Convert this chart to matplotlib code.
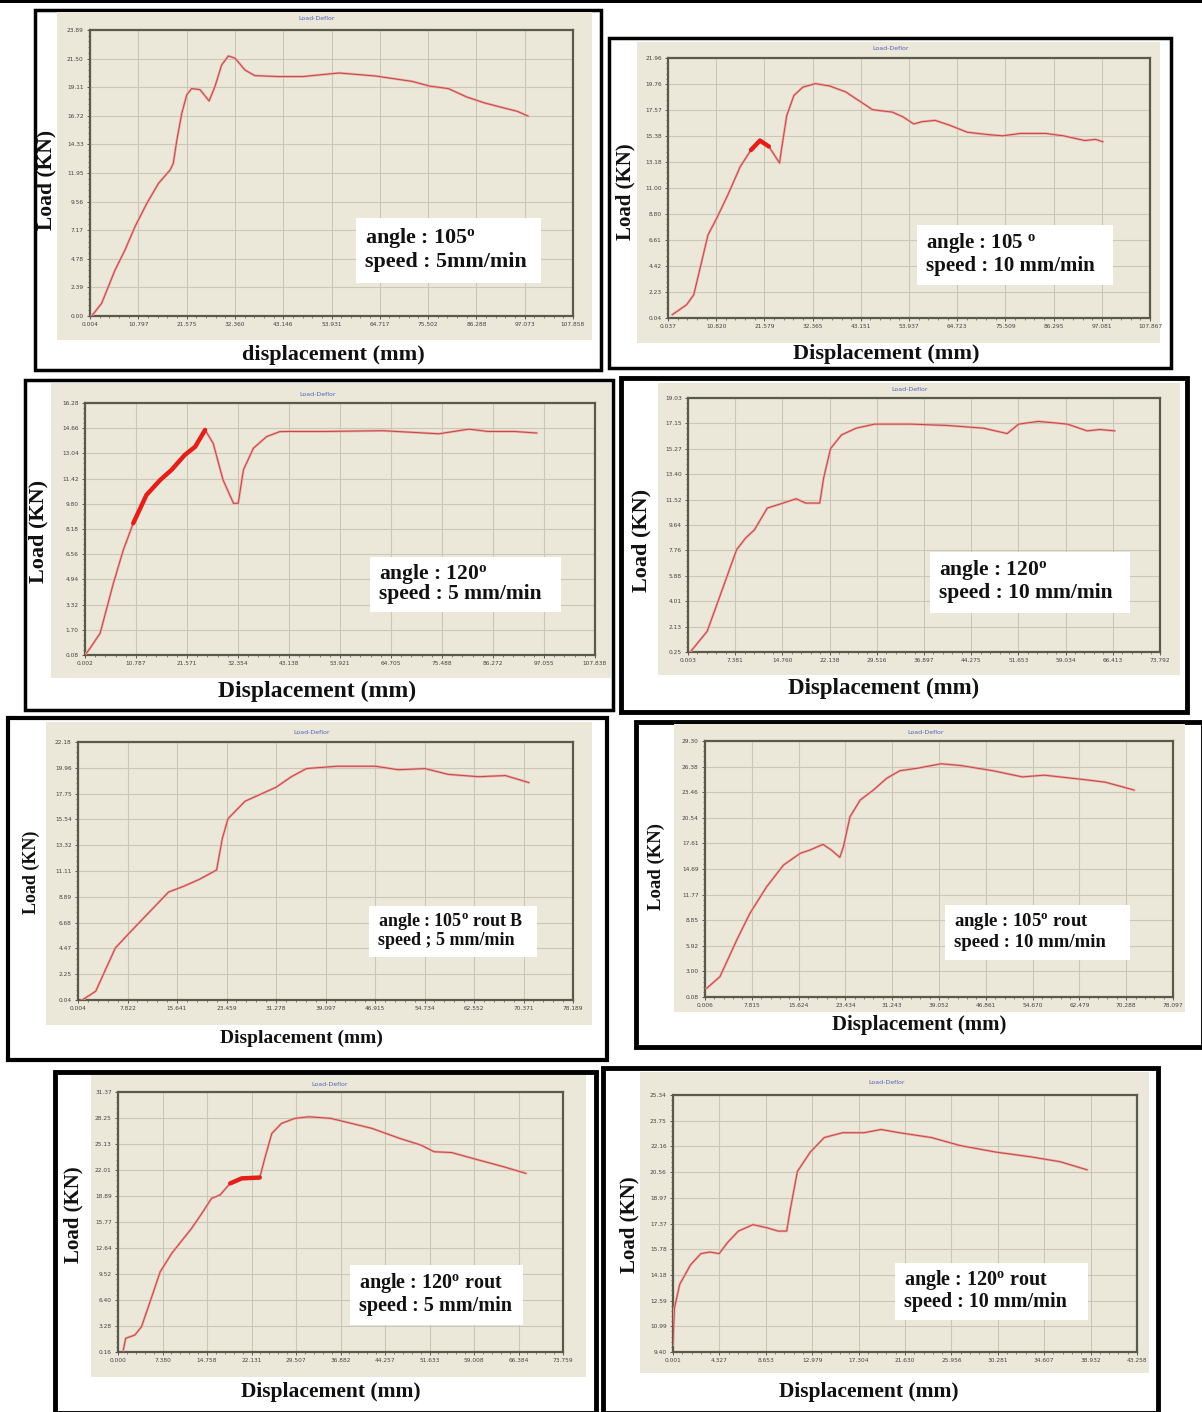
# -*- coding: utf-8 -*-

"""
Load-deflection curves, 8 test runs (angle / speed / rout)
"""
import numpy as np
import matplotlib
matplotlib.use("Agg")
import matplotlib.pyplot as plt
from matplotlib.patches import Rectangle
from matplotlib.ticker import FixedLocator, AutoMinorLocator

plt.rcParams['mathtext.fontset'] = 'custom'
plt.rcParams['mathtext.rm'] = 'Liberation Serif:bold'
plt.rcParams['mathtext.it'] = 'Liberation Serif:bold'

# ---- panel 1 : angle 105, 5 mm/min
p1_x = [0.38, 2.6, 5.6, 7.8, 10.05, 12.7, 15.3, 17.9, 18.6, 19.4, 20.5, 21.6, 22.7, 24.6,
        26.6, 27.9, 29.4, 30.9, 32.4, 34.6, 36.8, 42.0, 47.5, 55.6, 63.7, 71.9, 75.9,
        80.0, 84.1, 88.1, 92.2, 95.4, 97.8]
p1_y = [0.0, 1.06, 3.84, 5.5, 7.46, 9.41, 11.08, 12.2, 12.75, 14.7, 16.93, 18.46, 19.0,
        18.9, 17.96, 19.16, 20.97, 21.72, 21.53, 20.55, 20.08, 20.0, 20.0, 20.3, 20.05,
        19.6, 19.2, 19.0, 18.3, 17.8, 17.4, 17.1, 16.7]
p1_xt = ['0.004', '10.797', '21.575', '32.360', '43.146', '53.931', '64.717', '75.502',
         '86.288', '97.073', '107.858']
p1_yt = ['0.00', '2.39', '4.78', '7.17', '9.56', '11.95', '14.33', '16.72', '19.11',
         '21.50', '23.89']

# ---- panel 2 : angle 105, 10 mm/min
p2_x = [1.0, 4.2, 5.8, 9.0, 11.0, 13.4, 16.2, 18.6, 20.6, 22.6, 25.0, 25.4, 26.6, 28.2,
        30.2, 33.0, 36.2, 39.8, 43.0, 45.8, 50.2, 52.6, 55.0, 57.0, 59.8, 63.0, 67.0,
        71.7, 74.9, 78.9, 84.5, 88.5, 93.3, 95.7, 97.3]
p2_y = [0.32, 1.16, 2.0, 7.06, 8.5, 10.4, 12.8, 14.2, 15.0, 14.5, 13.1, 14.2, 17.1, 18.8,
        19.5, 19.8, 19.6, 19.1, 18.3, 17.6, 17.4, 17.0, 16.4, 16.6, 16.7, 16.3, 15.7,
        15.5, 15.4, 15.6, 15.6, 15.4, 15.0, 15.1, 14.9]
p2_xt = ['0.037', '10.820', '21.579', '32.365', '43.151', '53.937', '64.723', '75.509',
         '86.295', '97.081', '107.867']
p2_yt = ['0.04', '2.23', '4.42', '6.61', '8.80', '11.00', '13.18', '15.38', '17.57',
         '19.76', '21.96']

# ---- panel 3 : angle 120, 5 mm/min
p3_x = [0.3, 1.06, 3.2, 6.0, 8.1, 10.2, 13.0, 15.9, 18.3, 21.1, 23.3, 25.4, 27.1, 29.2,
        31.4, 32.4, 33.5, 35.6, 38.4, 41.2, 43.0, 50.9, 62.9, 74.8, 81.2, 85.2, 90.8, 95.5]
p3_y = [0.2, 0.51, 1.48, 4.69, 6.83, 8.55, 10.37, 11.33, 11.98, 12.94, 13.47, 14.55,
        13.69, 11.33, 9.83, 9.83, 11.98, 13.37, 14.12, 14.44, 14.45, 14.45, 14.5, 14.3,
        14.6, 14.45, 14.45, 14.35]
p3_xt = ['0.002', '10.787', '21.571', '32.354', '43.138', '53.921', '64.705', '75.488',
         '86.272', '97.055', '107.838']
p3_yt = ['0.08', '1.70', '3.32', '4.94', '6.56', '8.18', '9.80', '11.42', '13.04',
         '14.66', '16.28']

# ---- panel 4 : angle 120, 10 mm/min
p4_x = [0.45, 3.0, 4.7, 7.6, 9.0, 10.4, 12.4, 14.4, 16.9, 18.4, 20.6, 21.2, 22.3, 24.0,
        26.3, 29.2, 34.8, 40.5, 46.2, 49.9, 51.7, 54.8, 59.3, 62.4, 64.4, 66.7]
p4_y = [0.30, 1.78, 4.0, 7.81, 8.67, 9.29, 10.89, 11.19, 11.58, 11.26, 11.26, 13.1, 15.3,
        16.3, 16.8, 17.1, 17.1, 17.0, 16.8, 16.4, 17.1, 17.3, 17.1, 16.6, 16.7, 16.6]
p4_xt = ['0.003', '7.381', '14.760', '22.138', '29.516', '36.897', '44.275', '51.653',
         '59.034', '66.413', '73.792']
p4_yt = ['0.25', '2.13', '4.01', '5.88', '7.76', '9.64', '11.52', '13.40', '15.27',
         '17.15', '19.03']

# ---- panel 5 : angle 105 rout B, 5 mm/min
p5_x = [0.7, 2.8, 5.9, 8.3, 11.3, 14.3, 16.7, 19.2, 21.9, 22.8, 23.7, 26.4, 31.3, 33.7,
        36.1, 40.9, 47.0, 50.6, 54.8, 58.5, 63.3, 67.5, 71.2]
p5_y = [0.05, 0.79, 4.5, 5.9, 7.6, 9.3, 9.8, 10.4, 11.2, 13.9, 15.6, 17.1, 18.3, 19.2,
        19.9, 20.1, 20.1, 19.8, 19.9, 19.4, 19.2, 19.3, 18.7]
p5_xt = ['0.004', '7.822', '15.641', '23.459', '31.278', '39.097', '46.915', '54.734',
         '62.552', '70.371', '78.189']
p5_yt = ['0.04', '2.25', '4.47', '6.68', '8.89', '11.11', '13.32', '15.54', '17.75',
         '19.96', '22.18']

# ---- panel 6 : angle 105 rout, 10 mm/min
p6_x = [0.28, 2.5, 5.3, 7.5, 10.3, 13.1, 15.9, 17.5, 19.7, 21.1, 22.5, 23.1, 24.2, 25.9,
        28.1, 30.3, 32.5, 35.5, 39.4, 42.7, 48.1, 52.96, 56.6, 63.2, 66.8, 71.6]
p6_y = [1.07, 2.4, 6.58, 9.63, 12.67, 15.14, 16.48, 16.85, 17.5, 16.85, 16.02, 17.23,
        20.65, 22.56, 23.7, 25.03, 25.9, 26.2, 26.7, 26.5, 25.9, 25.2, 25.4, 24.9, 24.6,
        23.7]
p6_xt = ['0.006', '7.815', '15.624', '23.434', '31.243', '39.052', '46.861', '54.670',
         '62.479', '70.288', '78.097']
p6_yt = ['0.08', '3.00', '5.92', '8.85', '11.77', '14.69', '17.61', '20.54', '23.46',
         '26.38', '29.30']

# ---- panel 7 : angle 120 rout, 5 mm/min
p7_x = [0.88, 1.27, 2.8, 3.9, 5.6, 7.0, 8.9, 12.2, 13.9, 15.5, 16.9, 18.6, 20.5, 23.5,
        24.4, 25.5, 27.1, 29.3, 31.6, 35.3, 38.7, 42.1, 46.7, 50.2, 52.4, 55.3, 59.3,
        63.9, 67.6]
p7_y = [0.4, 1.8, 2.2, 3.2, 6.8, 9.8, 12.0, 15.0, 16.8, 18.6, 19.0, 20.4, 21.0, 21.1,
        23.6, 26.4, 27.6, 28.2, 28.4, 28.2, 27.6, 27.0, 25.8, 25.0, 24.2, 24.1, 23.3,
        22.4, 21.6]
p7_xt = ['0.000', '7.380', '14.758', '22.131', '29.507', '36.882', '44.257', '51.633',
         '59.008', '66.384', '73.759']
p7_yt = ['0.16', '3.28', '6.40', '9.52', '12.64', '15.77', '18.89', '22.01', '25.13',
         '28.25', '31.37']

# ---- panel 8 : angle 120 rout, 10 mm/min
p8_x = [0.0, 0.13, 0.63, 1.63, 2.6, 3.45, 4.3, 5.1, 6.1, 7.45, 8.8, 9.8, 10.6, 10.95,
        11.6, 12.8, 14.1, 15.8, 17.8, 19.4, 21.1, 24.1, 26.8, 30.1, 33.4, 36.1, 38.6]
p8_y = [9.85, 12.1, 13.6, 14.8, 15.5, 15.6, 15.5, 16.2, 16.9, 17.3, 17.1, 16.9, 16.9,
        18.3, 20.6, 21.8, 22.7, 23.0, 23.0, 23.2, 23.0, 22.7, 22.2, 21.8, 21.5, 21.2, 20.7]
p8_xt = ['0.001', '4.327', '8.653', '12.979', '17.304', '21.630', '25.956', '30.281',
         '34.607', '38.932', '43.258']
p8_yt = ['9.40', '10.99', '12.59', '14.18', '15.78', '17.37', '18.97', '20.56', '22.16',
         '23.75', '25.34']

notes = [
    ("angle : 105$^\\mathrm{o}$", "speed : 5mm/min"),
    ("angle : 105 $^\\mathrm{o}$", "speed : 10 mm/min"),
    ("angle : 120$^\\mathrm{o}$", "speed : 5 mm/min"),
    ("angle : 120$^\\mathrm{o}$", "speed : 10 mm/min"),
    ("angle : 105$^\\mathrm{o}$ rout B", "speed ; 5 mm/min"),
    ("angle : 105$^\\mathrm{o}$ rout", "speed : 10 mm/min"),
    ("angle : 120$^\\mathrm{o}$ rout", "speed : 5 mm/min"),
    ("angle : 120$^\\mathrm{o}$ rout", "speed : 10 mm/min"),
]
xlabels = ["displacement (mm)"] + ["Displacement (mm)"] * 7

W, H = 1202, 1412
BEIGE = '#ebe8da'
HALO = '#f0aaa5'
CORE = '#c04a48'

# pixel layout of every panel: frame, beige screen, plot box, texts, note box
layout = [
    dict(frame=(35, 10, 601, 370), flw=2.5, scr=(57, 12, 592, 340), plot=(90, 30, 573, 316),
         title=(317, 19), ylab=(46, 180), xlab=(333, 355), box=(356, 218, 541, 283),
         fs=16, yfs=15.5, nfs=15.8, band=None),
    dict(frame=(609, 38, 1171, 368), flw=2.5, scr=(637, 42, 1160, 343), plot=(668, 58, 1150, 318),
         title=(891, 48), ylab=(625, 192), xlab=(886, 354), box=(917, 225, 1113, 285),
         fs=16, yfs=15, nfs=15, band=(18.0, 23.5)),
    dict(frame=(25, 380, 613, 710), flw=2.5, scr=(51, 383, 611, 678), plot=(85, 403, 595, 655),
         title=(318, 395), ylab=(38, 531), xlab=(317, 691), box=(370, 557, 561, 612),
         fs=17, yfs=16, nfs=15.5, band=(10.0, 26.0)),
    dict(frame=(621, 378, 1187, 712), flw=3.5, scr=(658, 383, 1180, 675), plot=(688, 398, 1160, 652),
         title=(910, 390), ylab=(641, 540), xlab=(884, 688), box=(930, 552, 1130, 613),
         fs=16.5, yfs=16, nfs=15.5, band=None),
    dict(frame=(8, 718, 607, 1060), flw=3, scr=(46, 722, 592, 1025), plot=(78, 742, 573, 1000),
         title=(312, 733), ylab=(31, 872), xlab=(301, 1038), box=(369, 906, 537, 957),
         fs=14, yfs=13, nfs=13, band=None),
    dict(frame=(636, 722, 1203, 1047), flw=3.5, scr=(674, 724, 1185, 1012), plot=(705, 741, 1173, 997),
         title=(926, 733), ylab=(656, 866), xlab=(919, 1025), box=(945, 905, 1130, 960),
         fs=15, yfs=13.5, nfs=13.5, band=None),
    dict(frame=(55, 1072, 596, 1413), flw=3.5, scr=(91, 1075, 586, 1377), plot=(118, 1092, 563, 1352),
         title=(330, 1084), ylab=(73, 1215), xlab=(331, 1392), box=(350, 1265, 523, 1325),
         fs=15.5, yfs=15, nfs=14.5, band=(18.6, 23.5)),
    dict(frame=(603, 1068, 1158, 1413), flw=3.5, scr=(640, 1072, 1149, 1373), plot=(673, 1095, 1137, 1352),
         title=(887, 1083), ylab=(629, 1225), xlab=(869, 1392), box=(895, 1263, 1088, 1320),
         fs=15.5, yfs=15, nfs=14.5, band=None),
]

series = [(p1_x, p1_y, p1_xt, p1_yt), (p2_x, p2_y, p2_xt, p2_yt),
          (p3_x, p3_y, p3_xt, p3_yt), (p4_x, p4_y, p4_xt, p4_yt),
          (p5_x, p5_y, p5_xt, p5_yt), (p6_x, p6_y, p6_xt, p6_yt),
          (p7_x, p7_y, p7_xt, p7_yt), (p8_x, p8_y, p8_xt, p8_yt)]

fig = plt.figure(figsize=(W / 100, H / 100), dpi=100)
fig.patch.set_facecolor('white')


def fx(x):
    return x / W


def fy(y):
    return 1 - y / H


def add_rect(box, z, **kw):
    x0, y0, x1, y1 = box
    fig.add_artist(Rectangle((fx(x0), fy(y1)), (x1 - x0) / W, (y1 - y0) / H,
                             transform=fig.transFigure, zorder=z, **kw))


serif = dict(family='Liberation Serif', fontweight='bold', color='#111111')

# black strip along the top edge
add_rect((0, 0, W, 3), -3, facecolor='black', edgecolor='none')

for lay, (xs, ys, xt, yt), note, xlab in zip(layout, series, notes, xlabels):
    # frame and software screen go behind the axes
    add_rect(lay['frame'], -3, facecolor='white', edgecolor='black', linewidth=lay['flw'])
    add_rect(lay['scr'], -2, facecolor=BEIGE, edgecolor='none')

    x0, y0, x1, y1 = lay['plot']
    ax = fig.add_axes([fx(x0), fy(y1), (x1 - x0) / W, (y1 - y0) / H])
    ax.set_facecolor(BEIGE)

    xs = np.array(xs)
    ys = np.array(ys)
    # pink halo + darker core, like the exported screen trace
    ax.plot(xs, ys, color=HALO, lw=1.8, zorder=3, solid_joinstyle='round')
    ax.plot(xs, ys, color=CORE, lw=0.75, zorder=3.5, solid_joinstyle='round')
    if lay['band'] is not None:
        m = (xs >= lay['band'][0]) & (xs <= lay['band'][1])
        ax.plot(xs[m], ys[m], color='#e41e18', lw=3.2, zorder=4,
                solid_capstyle='round', solid_joinstyle='round')

    xv = [float(v) for v in xt]
    yv = [float(v) for v in yt]
    ax.set_xlim(xv[0], xv[-1])
    ax.set_ylim(yv[0], yv[-1])
    ax.xaxis.set_major_locator(FixedLocator(np.linspace(xv[0], xv[-1], len(xt))))
    ax.yaxis.set_major_locator(FixedLocator(np.linspace(yv[0], yv[-1], len(yt))))
    ax.set_xticklabels(xt)
    ax.set_yticklabels(yt)
    ax.xaxis.set_minor_locator(AutoMinorLocator(5))
    ax.yaxis.set_minor_locator(AutoMinorLocator(5))
    ax.tick_params(which='major', labelsize=4.2, length=2.5, width=0.6, pad=2,
                   colors='#444444', direction='out')
    ax.tick_params(which='minor', length=1.2, width=0.5, colors='#555555', direction='out')
    ax.grid(True, which='major', color='#cac7b8', linestyle='-', linewidth=0.8)
    for s in ax.spines.values():
        s.set_color('#5a5a4c')
        s.set_linewidth(1.6)

    tx, ty = lay['title']
    fig.text(fx(tx), fy(ty), 'Load-Deflor', fontsize=4.5, color='#5561b8',
             ha='center', va='center')
    lx, ly = lay['ylab']
    fig.text(fx(lx), fy(ly), 'Load (KN)', fontsize=lay['yfs'], rotation=90,
             ha='center', va='center', **serif)
    bx, by = lay['xlab']
    fig.text(fx(bx), fy(by), xlab, fontsize=lay['fs'], ha='center', va='center', **serif)

    add_rect(lay['box'], 4, facecolor='white', edgecolor='none')
    b0, c0, b1, c1 = lay['box']
    hh = c1 - c0
    fig.text(fx(b0 + 9), fy(c0 + hh * 0.30), note[0], fontsize=lay['nfs'],
             ha='left', va='center', zorder=5, **serif)
    fig.text(fx(b0 + 9), fy(c0 + hh * 0.68), note[1], fontsize=lay['nfs'],
             ha='left', va='center', zorder=5, **serif)

fig.savefig('out.png', dpi=100, facecolor='white')
